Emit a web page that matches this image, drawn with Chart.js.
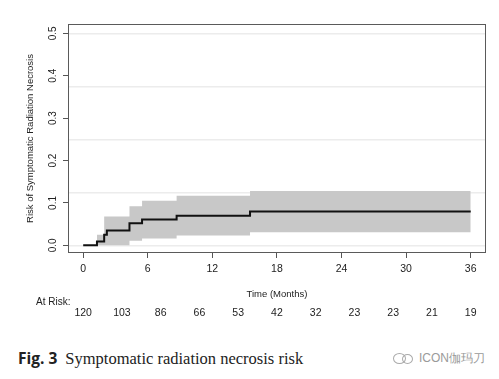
<!DOCTYPE html>
<html>
<head>
<meta charset="utf-8">
<script src="https://cdn.jsdelivr.net/npm/chart.js@4/dist/chart.umd.min.js"></script>
<style>
  html, body { margin: 0; padding: 0; background: #fff; }
  body { width: 499px; height: 379px; position: relative; overflow: hidden; font-family: "Liberation Sans", Arial, sans-serif; }
  #wrap { position: absolute; left: 0; top: 0; width: 499px; height: 330px; }
  .lbl { position: absolute; white-space: nowrap; color: #222; }
  #atrisk { left: 36px; top: 296px; font-size: 10px; }
  #cap { left: 18px; top: 347px; font-size: 16.5px; color: #222; }
  #cap b { font-family: "Open Sans", "Liberation Sans", sans-serif; font-weight: 700; font-size: 15.5px; margin-right: 8px; }
  #cap span { font-family: "Liberation Serif", "Times New Roman", serif; }
  #wm { left: 393px; top: 350px; font-size: 12px; color: #9a9a9a; }
  .bub { display: inline-block; width: 11px; height: 9px; border: 1px solid #aaa; border-radius: 50%; vertical-align: middle; margin-right: -4px; }
</style>
</head>
<body>
<div id="wrap"><canvas id="c"></canvas></div>
<div class="lbl" id="atrisk">At Risk:</div>
<div class="lbl" id="cap"><b>Fig. 3</b><span>Symptomatic radiation necrosis risk</span></div>
<div class="lbl" id="wm"><span class="bub"></span><span class="bub" style="width:9px;height:8px;margin-right:6px"></span>ICON伽玛刀</div>
<script>
// Kaplan-Meier cumulative risk (step function)
const kmTimes = [0, 1.28, 1.95, 2.2, 4.3, 5.47, 8.68, 15.5, 36];
const kmRisk  = [0, 0.009, 0.025, 0.035, 0.052, 0.061, 0.070, 0.080, 0.080];
// Confidence band
const bandTimes = [1.28, 1.95, 4.3, 5.47, 8.68, 15.5, 36];
const bandUpper = [0.025, 0.068, 0.092, 0.105, 0.117, 0.128, 0.128];
const bandLower = [0, 0, 0.011, 0.016, 0.023, 0.031, 0.031];
// Axis ticks
const xTicks = [0, 6, 12, 18, 24, 30, 36];
const yTicks = [0, 0.1, 0.2, 0.3, 0.4, 0.5];
const gridLevels = [0, 0.125, 0.25, 0.375, 0.5];
// Number at risk
const riskTimes = [0, 3.6, 7.2, 10.8, 14.4, 18, 21.6, 25.2, 28.8, 32.4, 36];
const riskCounts = [120, 103, 86, 66, 53, 42, 32, 23, 23, 21, 19];

const pts = (xs, ys) => xs.map((x, i) => ({x: x, y: ys[i]}));
const FONT = "'Liberation Sans', Arial, sans-serif";
const X_MIN = -1.41, X_MAX = 37.42, Y_MIN = -0.018, Y_MAX = 0.522;

const boxPlugin = {
  id: 'box',
  afterDatasetsDraw(chart) {
    const a = chart.chartArea, ctx = chart.ctx;
    ctx.save();
    ctx.strokeStyle = '#5a5a5a';
    ctx.lineWidth = 1;
    ctx.strokeRect(Math.round(a.left) + 0.5, Math.round(a.top) + 0.5, Math.round(a.right - a.left) - 1, Math.round(a.bottom - a.top) - 1);
    ctx.restore();
  }
};

new Chart(document.getElementById('c'), {
  type: 'line',
  data: {
    datasets: [
      { data: pts(bandTimes, bandUpper), stepped: true, borderWidth: 0, pointRadius: 0,
        backgroundColor: '#c8c8c8', fill: '+1', order: 2 },
      { data: pts(bandTimes, bandLower), stepped: true, borderWidth: 0, pointRadius: 0,
        backgroundColor: '#c8c8c8', fill: false, order: 2 },
      { data: pts(kmTimes, kmRisk), stepped: true, borderColor: '#111', borderWidth: 2,
        pointRadius: 0, fill: false, order: 1 }
    ]
  },
  options: {
    responsive: true, maintainAspectRatio: false, devicePixelRatio: 1, animation: false,
    layout: { padding: { left: 0, right: 13, top: 24, bottom: 0 } },
    plugins: { legend: { display: false }, tooltip: { enabled: false } },
    scales: {
      x: {
        type: 'linear', position: 'bottom', min: X_MIN, max: X_MAX, weight: 1,
        afterBuildTicks: s => { s.ticks = xTicks.map(v => ({value: v})); },
        afterFit: s => { s.height = 48; },
        grid: { drawOnChartArea: false, tickLength: 5, color: '#555', drawTicks: true },
        border: { display: false },
        ticks: { color: '#222', font: { family: FONT, size: 10.5 }, padding: 5, maxRotation: 0, autoSkip: false },
        title: { display: true, text: 'Time (Months)', color: '#222', font: { family: FONT, size: 9.5 }, padding: { top: 0, bottom: 1 } }
      },
      xr: {
        type: 'linear', position: 'bottom', min: X_MIN, max: X_MAX, weight: 2,
        afterBuildTicks: s => { s.ticks = riskTimes.map(v => ({value: v})); },
        afterFit: s => { s.height = 29; },
        grid: { display: false, drawTicks: false },
        border: { display: false },
        ticks: { color: '#222', font: { family: FONT, size: 10.5 }, padding: 6, maxRotation: 0, autoSkip: false,
          callback: (v, i) => riskCounts[i] }
      },
      y: {
        type: 'linear', position: 'left', min: Y_MIN, max: Y_MAX,
        afterBuildTicks: s => { s.ticks = yTicks.map(v => ({value: v})); },
        afterFit: s => { s.width = 68; },
        grid: { drawOnChartArea: false, tickLength: 5, color: '#555' },
        border: { display: false },
        ticks: { color: '#222', font: { family: FONT, size: 10 }, padding: 3, minRotation: 90, maxRotation: 90,
          crossAlign: 'center', callback: v => v.toFixed(1) },
        title: { display: true, text: 'Risk of Symptomatic Radiation Necrosis', color: '#222',
          font: { family: FONT, size: 9.5 }, padding: { top: 25, bottom: 0 } }
      },
      yg: {
        type: 'linear', position: 'left', min: Y_MIN, max: Y_MAX, display: true,
        afterBuildTicks: s => { s.ticks = gridLevels.map(v => ({value: v})); },
        afterFit: s => { s.width = 0; },
        grid: { color: '#ececec', lineWidth: 1.5, drawTicks: false },
        border: { display: false },
        ticks: { display: false }
      }
    }
  },
  plugins: [boxPlugin]
});
</script>
</body>
</html>
